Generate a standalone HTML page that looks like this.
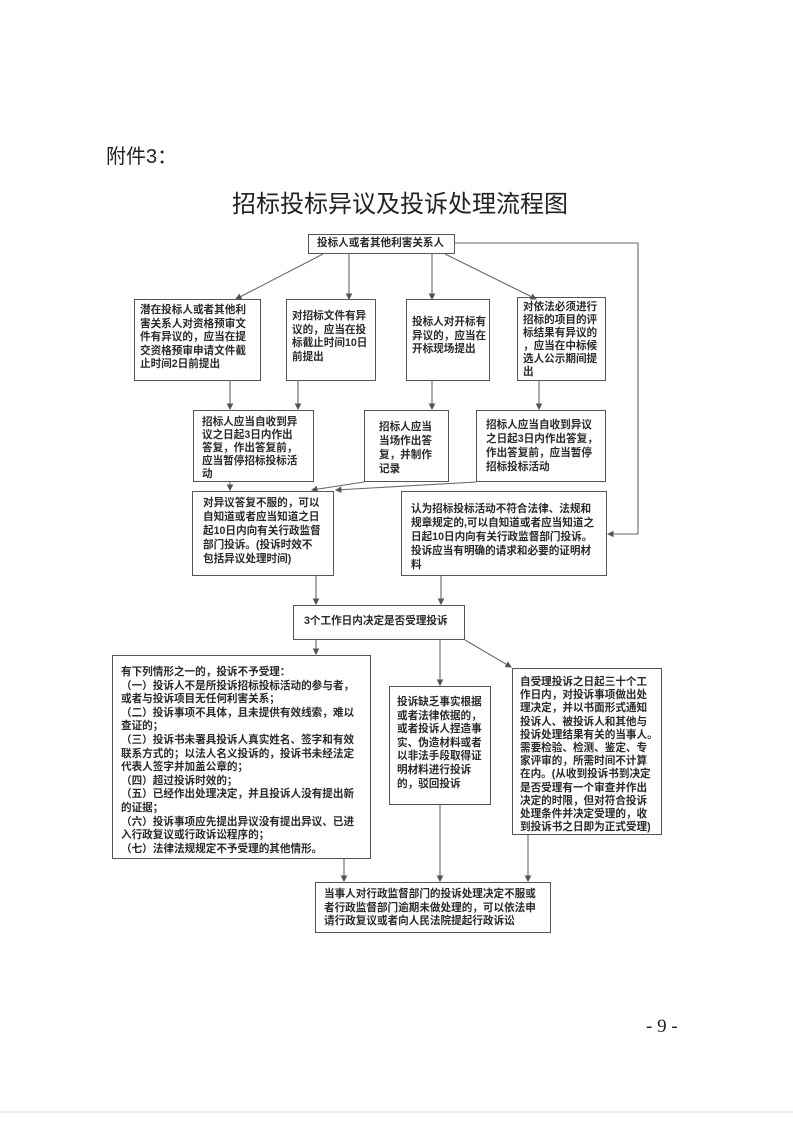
<!DOCTYPE html>
<html><head><meta charset="utf-8">
<style>
html,body{margin:0;padding:0;}
body{width:793px;height:1122px;position:relative;background:#fff;overflow:hidden;font-family:"Liberation Sans","Noto Sans CJK SC",sans-serif;color:#222;}
.b{position:absolute;border:1.3px solid #555;box-sizing:border-box;font-size:10.6px;line-height:13.6px;font-weight:bold;padding:4px 5px;white-space:nowrap;color:#2a2a2a;}
svg{position:absolute;left:0;top:0;}
</style></head><body>
<div style="position:absolute;left:106px;top:145px;font-size:20px;line-height:24px;">附件3：</div>
<div style="position:absolute;left:232px;top:190px;font-size:24px;line-height:30px;">招标投标异议及投诉处理流程图</div>

<svg width="793" height="1122">
<defs><marker id="a" markerWidth="6" markerHeight="6" refX="5" refY="3" orient="auto"><path d="M0,0 L6,3 L0,6z" fill="#555"/></marker></defs>
<g stroke="#666" stroke-width="1.1" fill="none" marker-end="url(#a)">
<line x1="323" y1="254" x2="236" y2="299"/>
<line x1="349" y1="254" x2="349" y2="299"/>
<line x1="432" y1="254" x2="432" y2="299"/>
<line x1="445" y1="254" x2="536" y2="299"/>
<line x1="230" y1="381" x2="230" y2="409"/>
<line x1="298" y1="381" x2="298" y2="409"/>
<line x1="432" y1="381" x2="432" y2="409"/>
<line x1="539" y1="381" x2="539" y2="409"/>
<line x1="230" y1="482" x2="230" y2="490"/>
<line x1="364" y1="482" x2="312" y2="490"/>
<line x1="476" y1="482" x2="336" y2="490"/>
<polyline points="455,243 638,243 638,534 608,534"/>
<line x1="316" y1="576" x2="316" y2="604"/>
<line x1="441" y1="576" x2="441" y2="604"/>
<line x1="316" y1="640" x2="316" y2="654"/>
<line x1="440" y1="640" x2="440" y2="685"/>
<line x1="465" y1="640" x2="511" y2="667"/>
<line x1="344" y1="859" x2="344" y2="881"/>
<line x1="440" y1="805" x2="440" y2="881"/>
<line x1="528" y1="835" x2="528" y2="881"/>
</g>
<line x1="0" y1="1112" x2="793" y2="1112" stroke="#eee" stroke-width="2"/>
</svg>

<div class="b" style="left:308px;top:234px;width:147px;height:20px;padding:2px 0 0 8px;">投标人或者其他利害关系人</div>

<div class="b" style="left:134px;top:299px;width:127px;height:82px;">潜在投标人或者其他利<br>害关系人对资格预审文<br>件有异议的，应当在提<br>交资格预审申请文件截<br>止时间2日前提出</div>
<div class="b" style="left:286px;top:299px;width:90px;height:82px;padding-top:10px;">对招标文件有异<br>议的，应当在投<br>标截止时间10日<br>前提出</div>
<div class="b" style="left:406px;top:299px;width:84px;height:82px;padding-top:16px;">投标人对开标有<br>异议的，应当在<br>开标现场提出</div>
<div class="b" style="left:517px;top:297px;width:89px;height:84px;padding-top:3px;line-height:13px;">对依法必须进行<br>招标的项目的评<br>标结果有异议的<br>，应当在中标候<br>选人公示期间提<br>出</div>

<div class="b" style="left:193px;top:410px;width:121px;height:72px;padding:5px 6px 0 8px;line-height:13px;">招标人应当自收到异<br>议之日起3日内作出<br>答复，作出答复前，<br>应当暂停招标投标活<br>动</div>
<div class="b" style="left:364px;top:410px;width:85px;height:72px;padding:9px 0 0 14px;line-height:14px;">招标人应当<br>当场作出答<br>复，并制作<br>记录</div>
<div class="b" style="left:476px;top:410px;width:130px;height:72px;padding:7px 0 0 9px;line-height:14px;">招标人应当自收到异议<br>之日起3日内作出答复，<br>作出答复前，应当暂停<br>招标投标活动</div>

<div class="b" style="left:192px;top:491px;width:142px;height:85px;padding:4px 0 0 10px;line-height:14px;">对异议答复不服的，可以<br>自知道或者应当知道之日<br>起10日内向有关行政监督<br>部门投诉。(投诉时效不<br>包括异议处理时间)</div>
<div class="b" style="left:401px;top:491px;width:206px;height:85px;padding:10px 0 0 9px;line-height:14px;">认为招标投标活动不符合法律、法规和<br>规章规定的,可以自知道或者应当知道之<br>日起10日内向有关行政监督部门投诉。<br>投诉应当有明确的请求和必要的证明材<br>料</div>

<div class="b" style="left:293px;top:605px;width:172px;height:35px;padding:9px 0 0 10px;">3个工作日内决定是否受理投诉</div>

<div class="b" style="left:112px;top:655px;width:259px;height:204px;padding:10px 0 0 8px;">有下列情形之一的，投诉不予受理：<br>（一）投诉人不是所投诉招标投标活动的参与者，<br>或者与投诉项目无任何利害关系；<br>（二）投诉事项不具体，且未提供有效线索，难以<br>查证的；<br>（三）投诉书未署具投诉人真实姓名、签字和有效<br>联系方式的；以法人名义投诉的，投诉书未经法定<br>代表人签字并加盖公章的；<br>（四）超过投诉时效的；<br>（五）已经作出处理决定，并且投诉人没有提出新<br>的证据；<br>（六）投诉事项应先提出异议没有提出异议、已进<br>入行政复议或行政诉讼程序的；<br>（七）法律法规规定不予受理的其他情形。</div>
<div class="b" style="left:389px;top:686px;width:102px;height:119px;padding:9px 0 0 7px;">投诉缺乏事实根据<br>或者法律依据的，<br>或者投诉人捏造事<br>实、伪造材料或者<br>以非法手段取得证<br>明材料进行投诉<br>的，驳回投诉</div>
<div class="b" style="left:512px;top:668px;width:150px;height:167px;padding:7px 0 0 7px;line-height:13.2px;">自受理投诉之日起三十个工<br>作日内，对投诉事项做出处<br>理决定，并以书面形式通知<br>投诉人、被投诉人和其他与<br>投诉处理结果有关的当事人。<br>需要检验、检测、鉴定、专<br>家评审的，所需时间不计算<br>在内。(从收到投诉书到决定<br>是否受理有一个审查并作出<br>决定的时限，但对符合投诉<br>处理条件并决定受理的，收<br>到投诉书之日即为正式受理)</div>

<div class="b" style="left:315px;top:882px;width:236px;height:51px;padding:5px 0 0 8px;">当事人对行政监督部门的投诉处理决定不服或<br>者行政监督部门逾期未做处理的，可以依法申<br>请行政复议或者向人民法院提起行政诉讼</div>

<div style="position:absolute;left:646px;top:1016px;font-size:19px;font-family:'Liberation Serif',serif;">- 9 -</div>
</body></html>
